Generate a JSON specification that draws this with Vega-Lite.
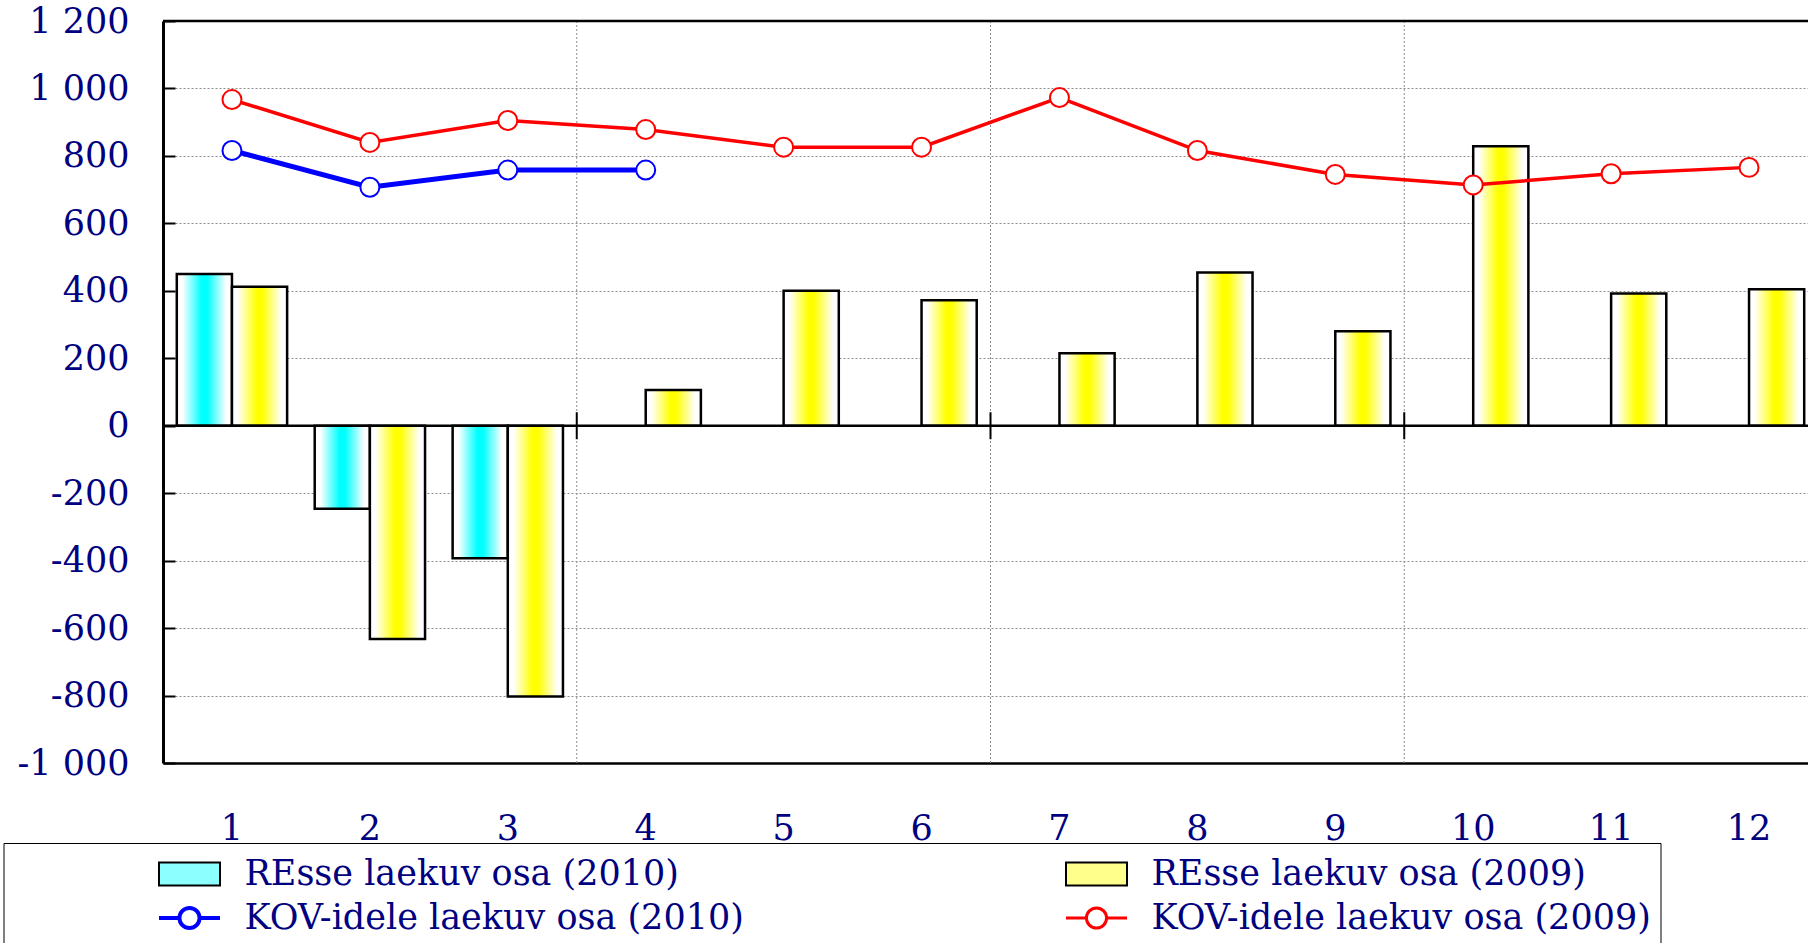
{
  "$schema": "https://vega.github.io/schema/vega-lite/v6.json",
  "width": 1645,
  "height": 742,
  "autosize": {"type": "none"},
  "padding": {"left": 163, "top": 21, "right": 0, "bottom": 180},
  "background": "white",
  "data": {"values": [
    {"month": 1, "series": "REsse laekuv osa (2010)", "value": 450},
    {"month": 2, "series": "REsse laekuv osa (2010)", "value": -246},
    {"month": 3, "series": "REsse laekuv osa (2010)", "value": -393},
    {"month": 1, "series": "REsse laekuv osa (2009)", "value": 412},
    {"month": 2, "series": "REsse laekuv osa (2009)", "value": -632},
    {"month": 3, "series": "REsse laekuv osa (2009)", "value": -803},
    {"month": 4, "series": "REsse laekuv osa (2009)", "value": 106},
    {"month": 5, "series": "REsse laekuv osa (2009)", "value": 400},
    {"month": 6, "series": "REsse laekuv osa (2009)", "value": 372},
    {"month": 7, "series": "REsse laekuv osa (2009)", "value": 215},
    {"month": 8, "series": "REsse laekuv osa (2009)", "value": 454},
    {"month": 9, "series": "REsse laekuv osa (2009)", "value": 280},
    {"month": 10, "series": "REsse laekuv osa (2009)", "value": 829},
    {"month": 11, "series": "REsse laekuv osa (2009)", "value": 392},
    {"month": 12, "series": "REsse laekuv osa (2009)", "value": 405},
    {"month": 1, "series": "KOV-idele laekuv osa (2010)", "value": 816},
    {"month": 2, "series": "KOV-idele laekuv osa (2010)", "value": 707},
    {"month": 3, "series": "KOV-idele laekuv osa (2010)", "value": 758},
    {"month": 4, "series": "KOV-idele laekuv osa (2010)", "value": 758},
    {"month": 1, "series": "KOV-idele laekuv osa (2009)", "value": 967},
    {"month": 2, "series": "KOV-idele laekuv osa (2009)", "value": 840},
    {"month": 3, "series": "KOV-idele laekuv osa (2009)", "value": 905},
    {"month": 4, "series": "KOV-idele laekuv osa (2009)", "value": 878},
    {"month": 5, "series": "KOV-idele laekuv osa (2009)", "value": 826},
    {"month": 6, "series": "KOV-idele laekuv osa (2009)", "value": 826},
    {"month": 7, "series": "KOV-idele laekuv osa (2009)", "value": 973},
    {"month": 8, "series": "KOV-idele laekuv osa (2009)", "value": 816},
    {"month": 9, "series": "KOV-idele laekuv osa (2009)", "value": 745},
    {"month": 10, "series": "KOV-idele laekuv osa (2009)", "value": 714},
    {"month": 11, "series": "KOV-idele laekuv osa (2009)", "value": 747},
    {"month": 12, "series": "KOV-idele laekuv osa (2009)", "value": 766}
  ]},
  "layer": [
    {
      "data": {"values": [{"q": 4}, {"q": 7}, {"q": 10}]},
      "mark": {"type": "rule", "color": "#8c8c8c", "strokeDash": [2, 2], "strokeWidth": 1},
      "encoding": {
        "x": {"field": "q", "type": "ordinal", "bandPosition": -0.125, "title": null}
      }
    },
    {
      "transform": [{"filter": "indexof(datum.series, 'REsse') === 0"}],
      "mark": {"type": "bar", "stroke": "black", "strokeWidth": 2.5},
      "encoding": {
        "x": {
          "field": "month", "type": "ordinal", "title": null,
          "scale": {"domain": [1,2,3,4,5,6,7,8,9,10,11,12], "range": [0, 1655], "paddingInner": 0.2, "paddingOuter": 0.1},
          "axis": {"labelAngle": 0, "labelAlign": "center", "bandPosition": 0.5, "ticks": false, "domain": true, "domainColor": "black", "domainWidth": 2.5, "labelPadding": 48, "grid": false, "labelBaseline": "top"}
        },
        "xOffset": {"field": "series", "type": "nominal", "scale": {"domain": ["REsse laekuv osa (2010)", "REsse laekuv osa (2009)"], "paddingInner": 0, "paddingOuter": 0}},
        "y": {
          "field": "value", "type": "quantitative", "title": null,
          "scale": {"domain": [-1000, 1200], "nice": false, "zero": false},
          "axis": {
            "values": [-1000, -800, -600, -400, -200, 0, 200, 400, 600, 800, 1000, 1200],
            "labelExpr": "replace(replace(format(datum.value, ',d'), ',', ' '), '\u2212', '-')",
            "domain": true, "domainColor": "black", "domainWidth": 3,
            "ticks": true, "tickColor": "black", "tickSize": -12, "tickWidth": 2,
            "grid": true, "gridColor": "#8c8c8c", "gridDash": [2, 2], "gridWidth": 1,
            "labelPadding": 46
          }
        },
        "fill": {
          "condition": {"test": "datum.series === 'REsse laekuv osa (2010)'", "value": {"gradient": "linear", "x1": 0, "y1": 0, "x2": 1, "y2": 0, "stops": [{"offset": 0, "color": "#ffffff"}, {"offset": 0.1, "color": "#ffffff"}, {"offset": 0.45, "color": "#00ffff"}, {"offset": 0.55, "color": "#00ffff"}, {"offset": 0.9, "color": "#ffffff"}, {"offset": 1, "color": "#ffffff"}]}},
          "value": {"gradient": "linear", "x1": 0, "y1": 0, "x2": 1, "y2": 0, "stops": [{"offset": 0, "color": "#ffffff"}, {"offset": 0.1, "color": "#ffffff"}, {"offset": 0.45, "color": "#ffff00"}, {"offset": 0.55, "color": "#ffff00"}, {"offset": 0.9, "color": "#ffffff"}, {"offset": 1, "color": "#ffffff"}]}
        }
      }
    },
    {
      "data": {"values": [{"z": 0}]},
      "mark": {"type": "rule", "color": "black", "strokeWidth": 2.5},
      "encoding": {"y": {"field": "z", "type": "quantitative"}}
    },
    {
      "data": {"values": [{"z": 1200}]},
      "mark": {"type": "rule", "color": "black", "strokeWidth": 2.5},
      "encoding": {"y": {"field": "z", "type": "quantitative"}}
    },
    {
      "data": {"values": [{"q": 4, "lo": -40, "hi": 40}, {"q": 7, "lo": -40, "hi": 40}, {"q": 10, "lo": -40, "hi": 40}]},
      "mark": {"type": "rule", "color": "black", "strokeWidth": 2},
      "encoding": {
        "x": {"field": "q", "type": "ordinal", "bandPosition": -0.125, "title": null},
        "y": {"field": "lo", "type": "quantitative"},
        "y2": {"field": "hi"}
      }
    },
    {
      "transform": [{"filter": "datum.series === 'KOV-idele laekuv osa (2010)'"}],
      "mark": {"type": "line", "strokeWidth": 5, "color": "#0000ff"},
      "encoding": {
        "x": {"field": "month", "type": "ordinal", "title": null},
        "y": {"field": "value", "type": "quantitative"}
      }
    },
    {
      "transform": [{"filter": "datum.series === 'KOV-idele laekuv osa (2009)'"}],
      "mark": {"type": "line", "strokeWidth": 3.5, "color": "#ff0000"},
      "encoding": {
        "x": {"field": "month", "type": "ordinal", "title": null},
        "y": {"field": "value", "type": "quantitative"}
      }
    },
    {
      "transform": [{"filter": "indexof(datum.series, 'KOV') === 0"}],
      "mark": {"type": "point", "shape": "circle", "filled": true, "fill": "#ffffff", "opacity": 1, "size": 360, "strokeWidth": 2},
      "encoding": {
        "x": {"field": "month", "type": "ordinal", "title": null},
        "y": {"field": "value", "type": "quantitative"},
        "stroke": {"condition": {"test": "datum.series === 'KOV-idele laekuv osa (2010)'", "value": "#0000ff"}, "value": "#ff0000"}
      }
    },
    {
      "transform": [{"filter": "false"}],
      "mark": {"type": "point", "opacity": 1},
      "encoding": {
        "x": {"field": "month", "type": "ordinal", "title": null},
        "y": {"field": "value", "type": "quantitative"},
        "stroke": {
          "field": "series", "type": "nominal",
          "scale": {"domain": ["REsse laekuv osa (2010)", "REsse laekuv osa (2009)", "KOV-idele laekuv osa (2010)", "KOV-idele laekuv osa (2009)"], "range": ["black", "black", "#0000ff", "#ff0000"]},
          "legend": {
            "title": null, "orient": "none", "legendX": -159.5, "legendY": 822, "direction": "horizontal",
            "columns": 2, "columnPadding": 175, "rowPadding": 0, "clipHeight": 44,
            "padding": 9, "strokeColor": "black", "fillColor": "white",
            "symbolSize": 3721, "symbolOffset": 144.5, "labelOffset": 22.5, "symbolOpacity": 1,
            "labelFont": "DejaVu Serif", "labelFontSize": 35, "labelColor": "#000080", "labelLimit": 2000
          }
        },
        "fill": {
          "field": "series", "type": "nominal",
          "scale": {"domain": ["REsse laekuv osa (2010)", "REsse laekuv osa (2009)", "KOV-idele laekuv osa (2010)", "KOV-idele laekuv osa (2009)"], "range": ["#8cffff", "#ffff8c", "#ffffff", "#ffffff"]},
          "legend": {
            "title": null, "orient": "none", "legendX": -159.5, "legendY": 822, "direction": "horizontal",
            "columns": 2, "columnPadding": 175, "rowPadding": 0, "clipHeight": 44,
            "padding": 9, "strokeColor": "black", "fillColor": "white",
            "symbolSize": 3721, "symbolOffset": 144.5, "labelOffset": 22.5, "symbolOpacity": 1,
            "labelFont": "DejaVu Serif", "labelFontSize": 35, "labelColor": "#000080", "labelLimit": 2000
          }
        },
        "shape": {
          "field": "series", "type": "nominal",
          "scale": {"domain": ["REsse laekuv osa (2010)", "REsse laekuv osa (2009)", "KOV-idele laekuv osa (2010)", "KOV-idele laekuv osa (2009)"], "range": [
            "M-1,-0.377H1V0.377H-1Z", "M-1,-0.377H1V0.377H-1Z",
            "M-1,0H-0.33M0.33,0H1M-0.33,0A0.33,0.33,0,1,1,0.33,0A0.33,0.33,0,1,1,-0.33,0",
            "M-1,0H-0.33M0.33,0H1M-0.33,0A0.33,0.33,0,1,1,0.33,0A0.33,0.33,0,1,1,-0.33,0"]},
          "legend": {
            "title": null, "orient": "none", "legendX": -159.5, "legendY": 822, "direction": "horizontal",
            "columns": 2, "columnPadding": 175, "rowPadding": 0, "clipHeight": 44,
            "padding": 9, "strokeColor": "black", "fillColor": "white",
            "symbolSize": 3721, "symbolOffset": 144.5, "labelOffset": 22.5, "symbolOpacity": 1,
            "labelFont": "DejaVu Serif", "labelFontSize": 35, "labelColor": "#000080", "labelLimit": 2000
          }
        },
        "strokeWidth": {
          "field": "series", "type": "ordinal",
          "scale": {"type": "ordinal", "domain": ["REsse laekuv osa (2010)", "REsse laekuv osa (2009)", "KOV-idele laekuv osa (2010)", "KOV-idele laekuv osa (2009)"], "range": [2, 2, 4, 3]},
          "legend": {
            "title": null, "orient": "none", "legendX": -159.5, "legendY": 822, "direction": "horizontal",
            "columns": 2, "columnPadding": 175, "rowPadding": 0, "clipHeight": 44,
            "padding": 9, "strokeColor": "black", "fillColor": "white",
            "symbolSize": 3721, "symbolOffset": 144.5, "labelOffset": 22.5, "symbolOpacity": 1,
            "labelFont": "DejaVu Serif", "labelFontSize": 35, "labelColor": "#000080", "labelLimit": 2000
          }
        }
      }
    }
  ],
  "config": {
    "font": "DejaVu Serif",
    "view": {"stroke": null},
    "axis": {"labelFont": "DejaVu Serif", "labelFontSize": 35, "labelColor": "#000080"}
  }
}
